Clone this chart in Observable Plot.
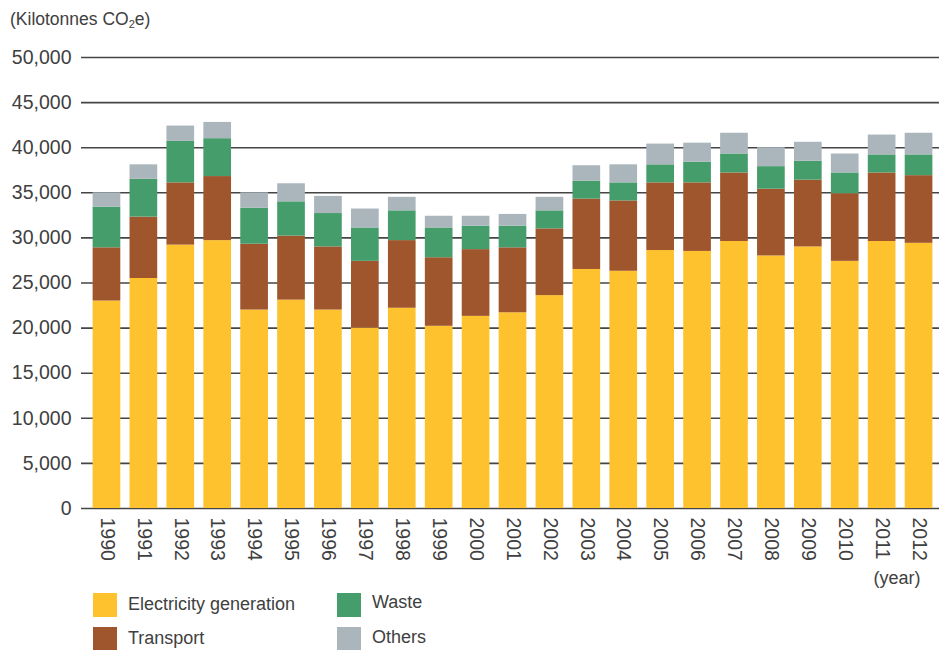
<!DOCTYPE html>
<html>
<head>
<meta charset="utf-8">
<script src="https://cdn.jsdelivr.net/npm/d3@7"></script>
<script src="https://cdn.jsdelivr.net/npm/@observablehq/plot@0.6"></script>
<style>
  html, body { margin: 0; padding: 0; background: #fff; }
  #wrap { position: relative; width: 939px; height: 650px; overflow: hidden; font-family: "Liberation Sans", Arial, sans-serif; color: #404040; }
  #title { position: absolute; left: 10px; top: 7px; font-size: 17.5px; line-height: 24px; white-space: nowrap; }
  #title sub { font-size: 11px; vertical-align: -3px; line-height: 0; }
  #chart { position: absolute; left: 0; top: 40px; }
  .sw { position: absolute; width: 24px; height: 24px; }
  .lt { position: absolute; font-size: 18px; line-height: 24px; white-space: nowrap; }
</style>
</head>
<body>
<div id="wrap">
  <div id="title">(Kilotonnes CO<sub>2</sub>e)</div>
  <div id="chart"></div>
  <div id="legend"></div>
</div>
<script>
const years = ["1990","1991","1992","1993","1994","1995","1996","1997","1998","1999","2000","2001","2002","2003","2004","2005","2006","2007","2008","2009","2010","2011","2012"];
const electricity = [23000,25500,29200,29700,22000,23100,22000,20000,22200,20200,21300,21700,23600,26500,26300,28600,28500,29600,28000,29000,27400,29600,29400];
const transport   = [5900,6800,6900,7100,7300,7100,7000,7400,7500,7600,7400,7200,7400,7800,7800,7500,7600,7600,7400,7400,7500,7600,7500];
const waste       = [4500,4200,4600,4200,4000,3800,3700,3700,3300,3300,2600,2400,2000,2000,2000,2000,2300,2100,2500,2100,2300,2000,2300];
const others      = [1600,1600,1700,1800,1700,2000,1900,2100,1500,1300,1100,1300,1500,1700,2000,2300,2100,2300,2100,2100,2100,2200,2400];
const sectors = ["Electricity generation","Transport","Waste","Others"];
const colors  = ["#FDC22E","#A0562D","#469D6C","#AAB5BC"];
const yTicks  = [0,5000,10000,15000,20000,25000,30000,35000,40000,45000,50000];

const series = [electricity, transport, waste, others];
const rows = [];
years.forEach((yr, i) => {
  sectors.forEach((s, k) => rows.push({year: yr, sector: s, value: series[k][i]}));
});

const plot = Plot.plot({
  width: 939,
  height: 550,
  marginTop: 17,
  marginBottom: 82,
  marginLeft: 81,
  marginRight: 0,
  style: {fontFamily: "'Liberation Sans', Arial, sans-serif", color: "#404040", background: "#fff"},
  x: {domain: years, paddingInner: 0.25, paddingOuter: 0.125, round: false, insetLeft: 7, insetRight: 2},
  y: {domain: [0, 50000]},
  color: {domain: sectors, range: colors},
  marks: [
    Plot.ruleY(yTicks, {stroke: "#454545", strokeWidth: 1.6}),
    Plot.barY(rows, {x: "year", y: "value", fill: "sector"}),
    Plot.axisY({ticks: yTicks, tickFormat: d3.format(","), tickSize: 0, tickPadding: 10, fontSize: 19.5, label: null}),
    Plot.axisX({tickRotate: 90, tickSize: 0, tickPadding: 9, fontSize: 19.5, label: null}),
    Plot.text(["(year)"], {frameAnchor: "bottom-right", textAnchor: "end", lineAnchor: "middle", dx: -19, dy: 70, fontSize: 18, fill: "#404040"})
  ]
});
document.getElementById("chart").appendChild(plot);

const legend = document.getElementById("legend");
const pos = [
  {sx: 93, sy: 593, tx: 128, ty: 592},
  {sx: 93, sy: 627, tx: 128, ty: 626},
  {sx: 337, sy: 593, tx: 372, ty: 590},
  {sx: 337, sy: 627, tx: 372, ty: 625}
];
sectors.forEach((s, k) => {
  const sw = document.createElement("div");
  sw.className = "sw";
  sw.style.left = pos[k].sx + "px"; sw.style.top = pos[k].sy + "px"; sw.style.background = colors[k];
  legend.appendChild(sw);
  const t = document.createElement("div");
  t.className = "lt";
  t.style.left = pos[k].tx + "px"; t.style.top = pos[k].ty + "px";
  t.textContent = s;
  legend.appendChild(t);
});
</script>
</body>
</html>
